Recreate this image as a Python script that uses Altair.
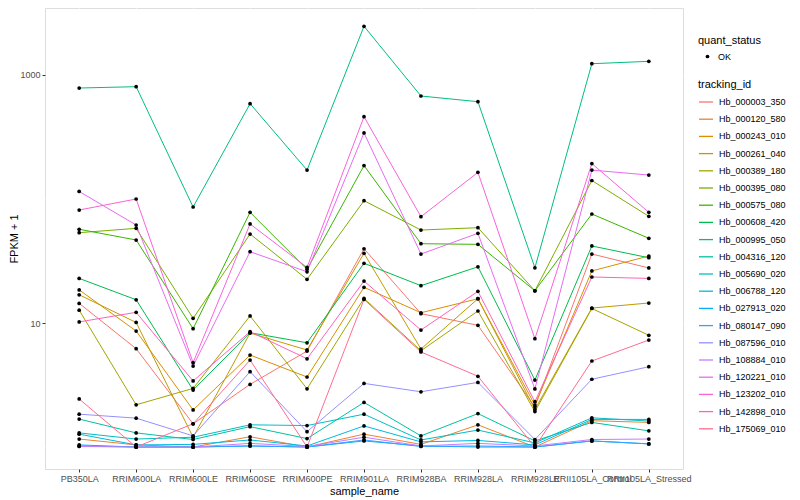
import altair as alt
import pandas as pd

samples = ["PB350LA", "RRIM600LA", "RRIM600LE", "RRIM600SE", "RRIM600PE", "RRIM901LA",
           "RRIM928BA", "RRIM928LA", "RRIM928LE", "RRII105LA_Control", "RRII105LA_Stressed"]

tracking_ids = ["Hb_000003_350", "Hb_000120_580", "Hb_000243_010", "Hb_000261_040", "Hb_000389_180",
                "Hb_000395_080", "Hb_000575_080", "Hb_000608_420", "Hb_000995_050", "Hb_004316_120",
                "Hb_005690_020", "Hb_006788_120", "Hb_027913_020", "Hb_080147_090", "Hb_087596_010",
                "Hb_108884_010", "Hb_120221_010", "Hb_123202_010", "Hb_142898_010", "Hb_175069_010"]

colors = ["#F8766D", "#EA8331", "#D89000", "#C09B00", "#A3A500", "#7CAE00", "#39B600", "#00BB4E",
          "#00BF7D", "#00C1A3", "#00BFC4", "#00BAE0", "#00B0F6", "#35A2FF", "#9590FF", "#C77CFF",
          "#E76BF3", "#FA62DB", "#FF62BC", "#FF6C91"]

# FPKM + 1 per sample, in the order of `samples`
Hb_000003_350 = [14.4, 6.21, 1.54, 3.20, 5.94, 39.7, 11.9, 9.58, 2.11, 36.0, 27.8]
Hb_000120_580 = [1.16, 1.04, 1.0, 1.21, 1.0, 1.27, 1.05, 1.51, 1.0, 1.63, 1.58]
Hb_000243_010 = [18.5, 8.62, 1.99, 5.52, 3.67, 19.4, 12.1, 15.7, 2.18, 26.3, 34.7]
Hb_000261_040 = [16.9, 10.1, 1.20, 8.30, 6.06, 36.5, 6.17, 15.7, 2.01, 13.2, 14.5]
Hb_000389_180 = [12.7, 2.19, 2.97, 11.4, 2.95, 15.8, 5.98, 12.5, 1.93, 13.1, 7.96]
Hb_000395_080 = [53.5, 58.0, 10.9, 52.2, 22.5, 96.9, 56.2, 58.7, 18.2, 141, 72.5]
Hb_000575_080 = [57.0, 46.7, 9.0, 78.1, 27.1, 186, 43.6, 43.1, 18.2, 75.7, 48.2]
Hb_000608_420 = [22.9, 15.4, 2.88, 8.35, 6.93, 30.3, 20.0, 28.4, 3.47, 41.8, 33.6]
Hb_000995_050 = [785, 805, 86.2, 587, 171, 2471, 677, 609, 27.9, 1233, 1289]
Hb_004316_120 = [1.68, 1.30, 1.15, 1.46, 1.17, 2.29, 1.23, 1.86, 1.12, 1.58, 1.35]
Hb_005690_020 = [1.30, 1.16, 1.20, 1.51, 1.49, 1.84, 1.14, 1.37, 1.08, 1.72, 1.62]
Hb_006788_120 = [1.27, 1.04, 1.05, 1.14, 1.02, 1.48, 1.10, 1.13, 1.04, 1.67, 1.67]
Hb_027913_020 = [1.04, 1.0, 1.0, 1.02, 1.0, 1.12, 1.02, 1.0, 1.0, 1.12, 1.06]
Hb_080147_090 = [1.02, 1.0, 1.0, 1.02, 1.0, 1.14, 1.01, 1.02, 1.0, 1.12, 1.06]
Hb_087596_010 = [1.84, 1.71, 1.23, 4.05, 1.33, 3.26, 2.79, 3.32, 1.15, 3.52, 4.44]
Hb_108884_010 = [1.01, 1.0, 1.0, 1.07, 1.01, 1.20, 1.02, 1.07, 1.02, 1.15, 1.16]
Hb_120221_010 = [115, 61.7, 4.50, 37.6, 25.9, 341, 36.0, 52.9, 2.94, 171, 156]
Hb_123202_010 = [81.5, 100, 4.79, 62.9, 28.1, 461, 72.0, 164, 7.47, 193, 78.1]
Hb_142898_010 = [10.2, 12.2, 3.41, 8.51, 5.15, 21.8, 8.78, 18.0, 2.32, 23.5, 22.9]
Hb_175069_010 = [2.44, 1.0, 1.54, 5.03, 1.0, 15.5, 5.84, 3.72, 1.0, 4.94, 7.29]

series = [Hb_000003_350, Hb_000120_580, Hb_000243_010, Hb_000261_040, Hb_000389_180,
          Hb_000395_080, Hb_000575_080, Hb_000608_420, Hb_000995_050, Hb_004316_120,
          Hb_005690_020, Hb_006788_120, Hb_027913_020, Hb_080147_090, Hb_087596_010,
          Hb_108884_010, Hb_120221_010, Hb_123202_010, Hb_142898_010, Hb_175069_010]

major_breaks = [10, 1000]
minor_breaks = [1, 100]
y_domain = [0.665, 3469]

rows = []
for tid, vals in zip(tracking_ids, series):
    for s, v in zip(samples, vals):
        rows.append({"tracking_id": tid, "sample_name": s, "FPKM": v, "quant_status": "OK"})
df = pd.DataFrame(rows)
minor_df = pd.DataFrame({"FPKM": minor_breaks})

FONT = "Liberation Sans"

x_enc = alt.X("sample_name:N", sort=samples,
              scale=alt.Scale(type="point", padding=0.6),
              axis=alt.Axis(title="sample_name", labelAngle=0, labelOverlap=False,
                            grid=True, gridColor="white", gridWidth=1.1,
                            domain=False, tickColor="#333333", tickSize=3, tickWidth=1,
                            labelColor="#4D4D4D", labelFontSize=9, labelPadding=2,
                            titleFontSize=11, titleFontWeight="normal", titleColor="black",
                            titlePadding=2))

y_axis = alt.Axis(title="FPKM + 1", values=major_breaks, format="d",
                  grid=True, gridColor="white", gridWidth=1.1,
                  domain=False, tickColor="#333333", tickSize=3, tickWidth=1,
                  labelColor="#4D4D4D", labelFontSize=9, labelPadding=2,
                  titleFontSize=11, titleFontWeight="normal", titleColor="black",
                  titlePadding=0)
y_scale = alt.Scale(type="log", domain=y_domain, nice=False)

minor = alt.Chart(minor_df).mark_rule(color="white", strokeWidth=0.6).encode(
    y=alt.Y("FPKM:Q", scale=y_scale, axis=y_axis)
)

lines = alt.Chart(df).mark_line(strokeWidth=1).encode(
    x=x_enc,
    y=alt.Y("FPKM:Q", scale=y_scale, axis=y_axis),
    color=alt.Color("tracking_id:N",
                    scale=alt.Scale(domain=tracking_ids, range=colors),
                    legend=alt.Legend(title="tracking_id", orient="none", legendX=653, legendY=71,
                                      symbolType="stroke", symbolSize=196, symbolStrokeWidth=1.3,
                                      rowPadding=4.2, labelOffset=5, titlePadding=4,
                                      labelFontSize=9, titleFontSize=11, labelColor="black",
                                      titleColor="black", titleFontWeight="normal", padding=0)),
)

points = alt.Chart(df).mark_point(filled=True, size=14, opacity=1, color="black").encode(
    x=x_enc,
    y=alt.Y("FPKM:Q", scale=y_scale, axis=y_axis),
    shape=alt.Shape("quant_status:N",
                    scale=alt.Scale(domain=["OK"], range=["circle"]),
                    legend=alt.Legend(title="quant_status", orient="none", legendX=653, legendY=27,
                                      symbolSize=14, symbolFillColor="black", symbolStrokeColor="black",
                                      symbolOffset=5, labelOffset=6, titlePadding=6,
                                      labelFontSize=9, titleFontSize=11, labelColor="black",
                                      titleColor="black", titleFontWeight="normal", padding=0)),
)

chart = alt.layer(minor, lines, points).properties(
    width=638, height=461,
    autosize=alt.AutoSizeParams(type="none"),
    padding={"left": 37, "top": 0, "right": 109, "bottom": 30},
).configure_view(
    fill="#EBEBEB", stroke=None
).configure(
    font=FONT, background="white"
)

chart.save("out.html", embed_options={"renderer": "svg", "actions": False})
